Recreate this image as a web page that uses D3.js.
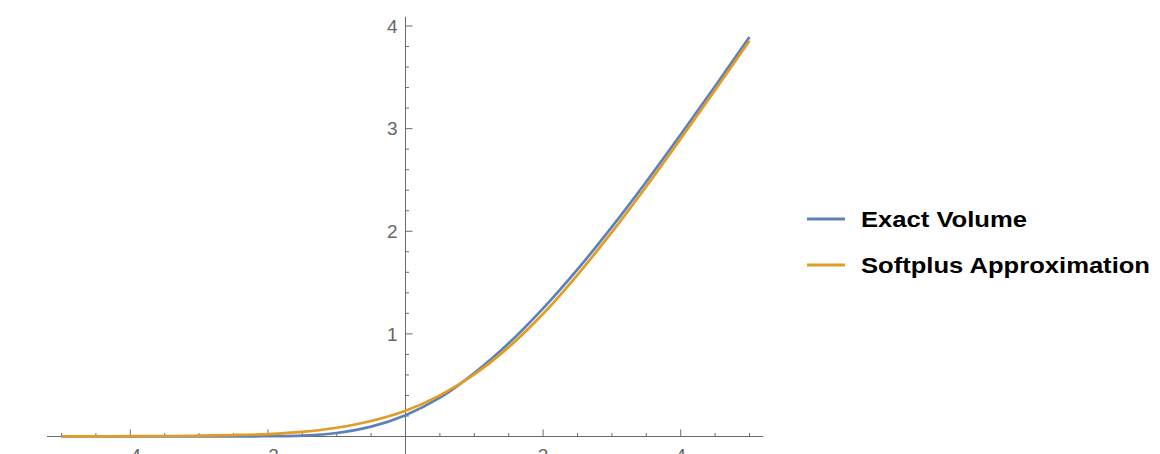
<!DOCTYPE html>
<html>
<head>
<meta charset="utf-8">
<script src="https://cdn.jsdelivr.net/npm/d3@7"></script>
<style>
    body { margin: 0; background: #fff; }
    svg { display: block; }
</style>
</head>
<body>
<svg id="chart-svg"></svg>
<script>
// values, every 0.5 on x
const xValues = [-5, -4.5, -4, -3.5, -3, -2.5, -2, -1.5, -1, -0.5, 0, 0.5, 1, 1.5, 2, 2.5, 3, 3.5, 4, 4.5, 5];
const exactVolume = [0, 0, 0, 0, 0.0005, 0.001, 0.003, 0.009, 0.034, 0.096, 0.208, 0.378, 0.618, 0.908, 1.248, 1.628, 2.043, 2.483, 2.943, 3.413, 3.893];
const softplusApprox = [0.001, 0.002, 0.003, 0.005, 0.008, 0.014, 0.024, 0.045, 0.085, 0.151, 0.251, 0.401, 0.606, 0.871, 1.196, 1.576, 1.991, 2.436, 2.901, 3.376, 3.856];
const seriesNames = ["Exact Volume", "Softplus Approximation"];
const xMajorTicks = [-4, -2, 2, 4];
const yMajorTicks = [1, 2, 3, 4];

const width = 1160;
const height = 454;
const colors = ["#5e81b5", "#e19c24"];
const axisColor = "#6b6b6b";

const svg = d3.select("#chart-svg")
    .attr("width", width)
    .attr("height", height);

const x = d3.scaleLinear().domain([-5, 5]).range([61.5, 749.5]);
const y = d3.scaleLinear().domain([0, 4]).range([436.5, 26]);

// axes cross at the origin, Mathematica style
svg.append("line")
    .attr("x1", x(-5.21)).attr("x2", x(5.2))
    .attr("y1", y(0)).attr("y2", y(0))
    .attr("stroke", axisColor);

svg.append("line")
    .attr("x1", x(0)).attr("x2", x(0))
    .attr("y1", y(4.09)).attr("y2", height + 10)
    .attr("stroke", axisColor);

const xMinor = d3.range(-5, 5.01, 0.5).filter(v => v !== 0 && !xMajorTicks.includes(v));
const yMinor = d3.range(0.2, 4.01, 0.2).map(v => +v.toFixed(1)).filter(v => !yMajorTicks.includes(v));

svg.selectAll(".x-tick")
    .data(xMajorTicks.map(v => ({ v, len: 7 })).concat(xMinor.map(v => ({ v, len: 3.5 }))))
    .enter()
    .append("line")
    .attr("class", "x-tick")
    .attr("x1", d => x(d.v)).attr("x2", d => x(d.v))
    .attr("y1", y(0)).attr("y2", d => y(0) - d.len)
    .attr("stroke", axisColor);

svg.selectAll(".y-tick")
    .data(yMajorTicks.map(v => ({ v, len: 7 })).concat(yMinor.map(v => ({ v, len: 3.5 }))))
    .enter()
    .append("line")
    .attr("class", "y-tick")
    .attr("x1", x(0)).attr("x2", d => x(0) + d.len)
    .attr("y1", d => y(d.v)).attr("y2", d => y(d.v))
    .attr("stroke", axisColor);

svg.selectAll(".y-label")
    .data(yMajorTicks)
    .enter()
    .append("text")
    .attr("class", "y-label")
    .attr("x", x(0) - 8)
    .attr("y", d => y(d))
    .attr("dy", "0.36em")
    .attr("text-anchor", "end")
    .style("font-family", "'Liberation Sans', Arial, sans-serif")
    .style("font-size", "19px")
    .style("fill", "#666")
    .text(d => d);

// bottom labels sit partly below the frame, as in the reference
svg.selectAll(".x-label")
    .data(xMajorTicks)
    .enter()
    .append("text")
    .attr("class", "x-label")
    .attr("x", d => x(d))
    .attr("y", 462)
    .attr("text-anchor", "middle")
    .style("font-family", "'Liberation Sans', Arial, sans-serif")
    .style("font-size", "19px")
    .style("fill", "#666")
    .text(d => d < 0 ? "\u2212" + Math.abs(d) : d);

const line = d3.line()
    .x(d => x(d[0]))
    .y(d => y(d[1]))
    .curve(d3.curveCatmullRom.alpha(0.5));

[exactVolume, softplusApprox].forEach((vals, i) => {
    svg.append("path")
        .attr("d", line(xValues.map((v, j) => [v, vals[j]])))
        .attr("fill", "none")
        .attr("stroke", colors[i])
        .attr("stroke-width", 2.7);
});

const legendWidths = [166, 289];

const legend = svg.selectAll(".legend")
    .data(seriesNames)
    .enter()
    .append("g")
    .attr("class", "legend")
    .attr("transform", (d, i) => `translate(807,${219 + i * 46})`);

legend.append("line")
    .attr("x1", 0).attr("x2", 38)
    .attr("stroke", (d, i) => colors[i])
    .attr("stroke-width", 3);

legend.append("text")
    .attr("x", 54)
    .attr("y", 8)
    .attr("textLength", (d, i) => legendWidths[i])
    .attr("lengthAdjust", "spacingAndGlyphs")
    .style("font-family", "'Liberation Sans', Arial, sans-serif")
    .style("font-size", "22px")
    .style("font-weight", "bold")
    .style("fill", "#000")
    .text(d => d);
</script>
</body>
</html>
